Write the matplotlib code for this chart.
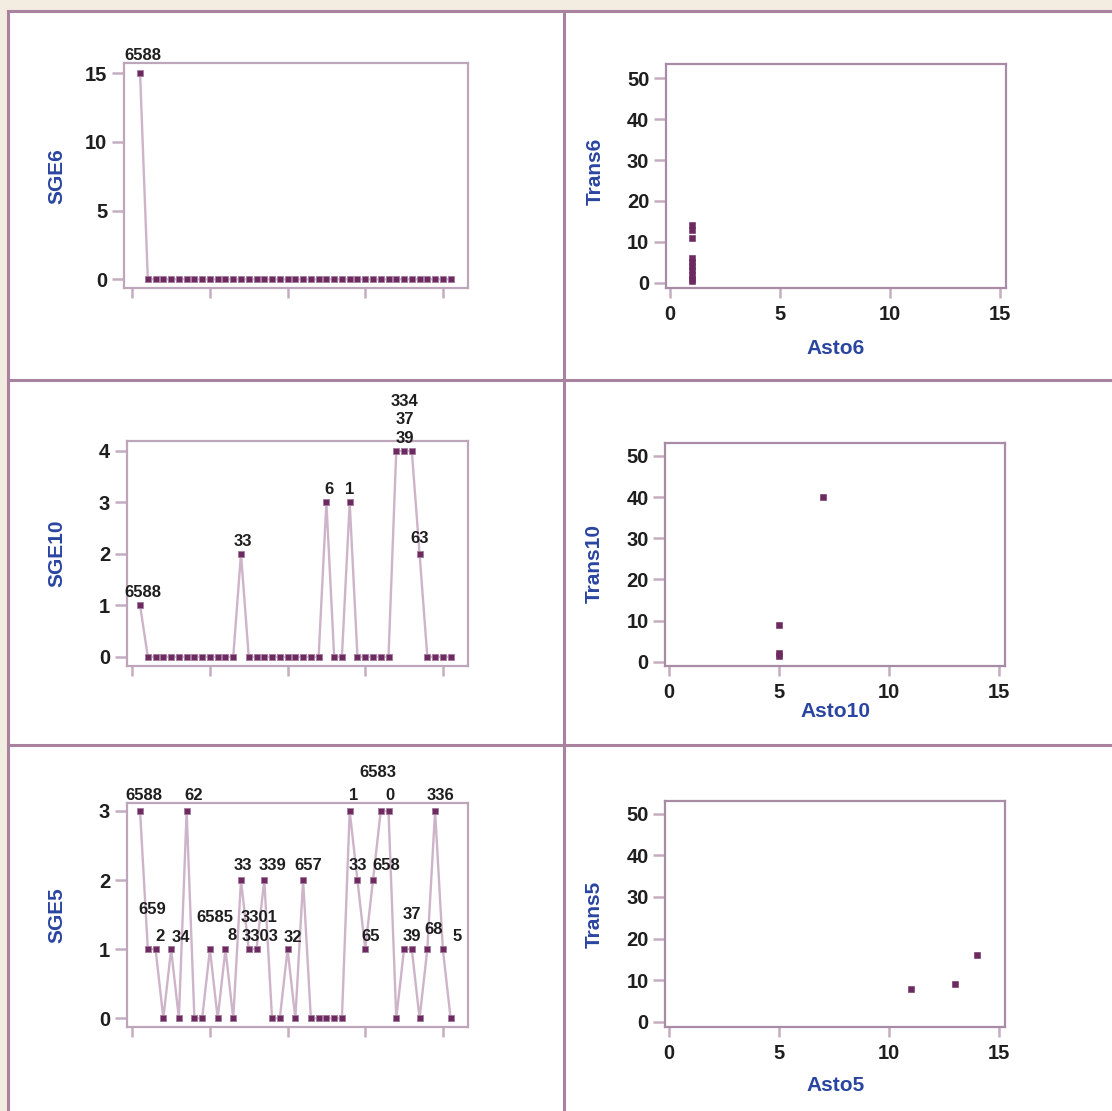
import matplotlib
matplotlib.use("Agg")
import matplotlib.pyplot as plt
from matplotlib.patches import Rectangle
from matplotlib.lines import Line2D

plt.rcParams['font.family'] = ['Liberation Sans', 'DejaVu Sans']
plt.rcParams['font.weight'] = 'bold'

W, H = 1112, 1111

# data
idx = list(range(1, 42))
sge6 = [15] + [0] * 40
sge10 = [1] + [0] * 12 + [2] + [0] * 10 + [3, 0, 0, 3] + [0] * 5 + [4, 4, 4, 2, 0, 0, 0, 0]
sge5 = [3, 1, 1, 0, 1, 0, 3, 0, 0, 1, 0, 1, 0, 2, 1, 1, 2, 0, 0, 1, 0,
        2, 0, 0, 0, 0, 0, 3, 2, 1, 2, 3, 3, 0, 1, 1, 0, 1, 3, 1, 0]

sge6_lab = ["6588"]
sge6_lx = [1.4]
sge6_ly = [16.3]

sge10_lab = ["6588", "33", "6", "1", "334", "37", "39", "63"]
sge10_lx = [1.4, 14.2, 25.3, 28.0, 35.1, 35.1, 35.1, 37.0]
sge10_ly = [1.24, 2.25, 3.26, 3.26, 4.97, 4.62, 4.25, 2.29]

sge5_lab = ["6588", "62", "659", "2", "34", "6585", "8", "33", "339", "657",
            "3301", "3303", "32", "1", "6583", "0", "336", "33", "658", "65",
            "37", "39", "68", "5"]
sge5_lx = [1.5, 7.85, 2.6, 3.56, 6.2, 10.6, 12.9, 14.3, 18.1, 22.7,
           16.3, 16.4, 20.7, 28.5, 31.6, 33.2, 39.7, 29.0, 32.7, 30.7,
           36.05, 36.05, 38.75, 41.8]
sge5_ly = [3.23, 3.23, 1.58, 1.18, 1.17, 1.46, 1.2, 2.21, 2.21, 2.21,
           1.46, 1.18, 1.17, 3.23, 3.55, 3.23, 3.23, 2.21, 2.21, 1.18,
           1.5, 1.18, 1.29, 1.18]

asto6 = [1, 1, 1, 1, 1, 1, 1, 1, 1, 1]
trans6 = [0.5, 1, 2, 3, 4, 5, 6, 11, 13, 14]
asto10 = [7, 5, 5, 5]
trans10 = [40, 9, 2, 1.5]
asto5 = [11, 13, 14]
trans5 = [8, 9, 16]

MARK = '#6d2a61'
LINE = '#cdb4c9'
FRAME_L = '#bda6ba'
FRAME_R = '#a88ba4'
TICK = '#c5adc1'
BLUE = '#2a45a0'
DARK = '#1e1e1e'
DIV = '#a9829f'


def px_axes(fig, left, top, right, bottom):
    return fig.add_axes([left / W, 1 - bottom / H, (right - left) / W, (bottom - top) / H])


def style(ax, frame):
    for s in ax.spines.values():
        s.set_color(frame)
        s.set_linewidth(1.6)
    ax.tick_params(axis='both', colors=TICK, width=1.8, labelcolor=DARK,
                   labelsize=14.5, direction='out')
    ax.tick_params(axis='y', length=9, pad=3)
    ax.tick_params(axis='x', length=7, pad=5)
    for t in ax.get_xticklabels() + ax.get_yticklabels():
        t.set_fontweight('bold')


def line_panel(ax, y, name, labs, lx, ly, ylim, yticks, xleft):
    ax.plot(idx, y, color=LINE, lw=1.7, zorder=2)
    ax.plot(idx, y, 's', ms=5, mfc=MARK, mec='#a47a9d', mew=0.6, zorder=3)
    for t, a, b in zip(labs, lx, ly):
        ax.text(a, b, t, ha='center', va='center', fontsize=12,
                fontweight='bold', color=DARK, clip_on=False)
    ax.set_xlim(xleft, 43.2)
    ax.set_ylim(*ylim)
    ax.set_xticks([0, 10, 20, 30, 40])
    ax.set_xticklabels([])
    ax.set_yticks(yticks)
    style(ax, FRAME_L)
    ax.set_ylabel(name, color=BLUE, fontsize=15, fontweight='bold', va='center')


def scatter_panel(ax, x, y, xname, yname, ylim, xlab_y, ylab_y):
    ax.plot(x, y, 's', ms=5, mfc=MARK, mec=MARK, mew=0.4, ls='none')
    ax.set_xlim(-0.18, 15.27)
    ax.set_ylim(*ylim)
    ax.set_xticks([0, 5, 10, 15])
    ax.set_yticks([0, 10, 20, 30, 40, 50])
    style(ax, FRAME_R)
    ax.set_ylabel(yname, color=BLUE, fontsize=15, fontweight='bold', va='center')
    ax.set_xlabel(xname, color=BLUE, fontsize=15, fontweight='bold', va='center')
    ax.yaxis.set_label_coords(-0.209, ylab_y)
    ax.xaxis.set_label_coords(0.5, xlab_y)


fig = plt.figure(figsize=(W / 100, H / 100), dpi=100, facecolor='#f3ece0')
fig.patches.append(Rectangle((8 / W, 0), 1, 1 - 11 / H, transform=fig.transFigure,
                             facecolor='white', edgecolor='none', zorder=-10))
for (x0, y0, x1, y1) in [(8, 11, W, 11), (8, 380, W, 380), (8, 745, W, 745),
                         (8, 11, 8, H), (564, 11, 564, H)]:
    fig.lines.append(Line2D([x0 / W, x1 / W], [1 - y0 / H, 1 - y1 / H],
                            transform=fig.transFigure, color=DIV, lw=2.2, zorder=-5))

ax1 = px_axes(fig, 124, 63.3, 467.7, 288.3)
line_panel(ax1, sge6, "SGE6", sge6_lab, sge6_lx, sge6_ly, (-0.66, 15.73), [0, 5, 10, 15], -1.07)
ax1.yaxis.set_label_coords(-0.195, 0.5)

ax2 = px_axes(fig, 126.7, 440.7, 467.7, 666)
line_panel(ax2, sge10, "SGE10", sge10_lab, sge10_lx, sge10_ly, (-0.18, 4.2), [0, 1, 2, 3, 4], -0.72)
ax2.yaxis.set_label_coords(-(126.7 - 57) / 341, 0.5)

ax3 = px_axes(fig, 126.7, 802.7, 467.7, 1027.3)
line_panel(ax3, sge5, "SGE5", sge5_lab, sge5_lx, sge5_ly, (-0.13, 3.12), [0, 1, 2, 3], -0.72)
ax3.yaxis.set_label_coords(-(126.7 - 57) / 341, 0.5)

ax4 = px_axes(fig, 666, 64, 1006, 288)
scatter_panel(ax4, asto6, trans6, "Asto6", "Trans6", (-1.3, 53.5), -0.272, 0.52)

ax5 = px_axes(fig, 665.3, 442.7, 1005.3, 666)
scatter_panel(ax5, asto10, trans10, "Asto10", "Trans10", (-1.05, 53.2), -0.206, 0.46)

ax6 = px_axes(fig, 665.3, 801, 1005.3, 1027.3)
scatter_panel(ax6, asto5, trans5, "Asto5", "Trans5", (-1.3, 53.0), -0.257, 0.5)

fig.savefig("out.png", dpi=100, facecolor=fig.get_facecolor())
